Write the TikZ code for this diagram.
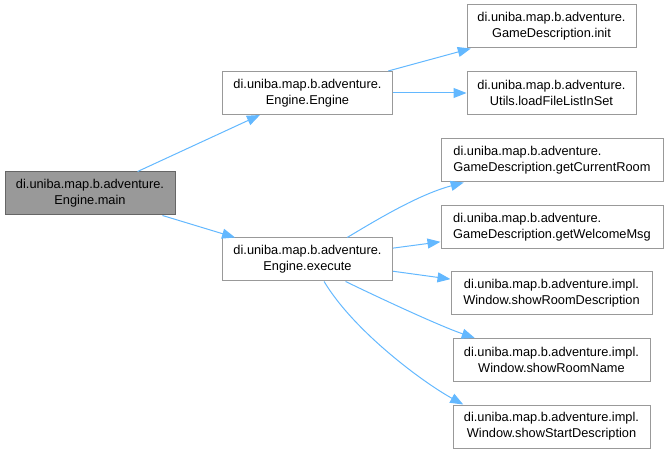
\documentclass[tikz,border=0pt]{standalone}
\usepackage{fontspec}
\setmainfont{Liberation Sans}
\usetikzlibrary{arrows.meta}
\definecolor{edgeblue}{HTML}{63B8FF}
\definecolor{boxgray}{HTML}{999999}
\definecolor{rootgray}{HTML}{666666}
\begin{document}
\begin{tikzpicture}[x=0.75pt,y=-0.75pt,
    fn/.style={draw=boxgray, line width=0.75pt, fill=white, inner sep=0pt,
      minimum height=32.25pt, align=center,
      font=\fontsize{9.6}{12}\selectfont},
    root/.style={fn, draw=rootgray, fill=boxgray},
    call/.style={draw=edgeblue, line width=0.75pt, -{Triangle[length=9.75pt,width=7.5pt]}}]
        \useasboundingbox (0,0) rectangle (669,453);

        % Fonction de depart
        \node[root, minimum width=127.5pt] (main) at (90,193.5)
            {di.uniba.map.b.adventure.\\Engine.main};

        % Appels directs
        \node[fn, minimum width=127.5pt] (engine) at (307.5,93)
            {di.uniba.map.b.adventure.\\Engine.Engine};
        \node[fn, minimum width=127.5pt] (execute) at (307.5,259.5)
            {di.uniba.map.b.adventure.\\Engine.execute};

        % Appels de Engine.Engine
        \node[fn, minimum width=126.75pt] (init) at (551.5,26.5)
            {di.uniba.map.b.adventure.\\GameDescription.init};
        \node[fn, minimum width=126.75pt] (loadset) at (551.5,93)
            {di.uniba.map.b.adventure.\\Utils.loadFileListInSet};

        % Appels de Engine.execute
        \node[fn, minimum width=166.5pt, align=left] (curroom) at (552,160.5)
            {di.uniba.map.b.adventure.\\GameDescription.getCurrentRoom};
        \node[fn, minimum width=166.5pt, align=left] (welcome) at (552,227)
            {di.uniba.map.b.adventure.\\GameDescription.getWelcomeMsg};
        \node[fn, minimum width=150.75pt] (roomdesc) at (551.5,293)
            {di.uniba.map.b.adventure.impl.\\Window.showRoomDescription};
        \node[fn, minimum width=147.75pt] (roomname) at (551.5,360)
            {di.uniba.map.b.adventure.impl.\\Window.showRoomName};
        \node[fn, minimum width=147.75pt] (startdesc) at (551.5,426.5)
            {di.uniba.map.b.adventure.impl.\\Window.showStartDescription};

        % Fleches
        \draw[call] (main) -- (engine);
        \draw[call] (main) -- (execute);
        \draw[call] (engine) -- (init);
        \draw[call] (engine) -- (loadset);
        \draw[call] (execute.29.5) .. controls +(30,-18) and +(-45,12) .. (curroom.194.9);
        \draw[call] (execute) -- (welcome);
        \draw[call] (execute) -- (roomdesc);
        \draw[call] (execute.330.6) .. controls +(35,17) and +(-35,-12) .. (roomname.164.9);
        \draw[call] (execute.307.1) .. controls +(30,50) and +(-40,-22) .. (startdesc.166.3);
    \end{tikzpicture}
\end{document}
